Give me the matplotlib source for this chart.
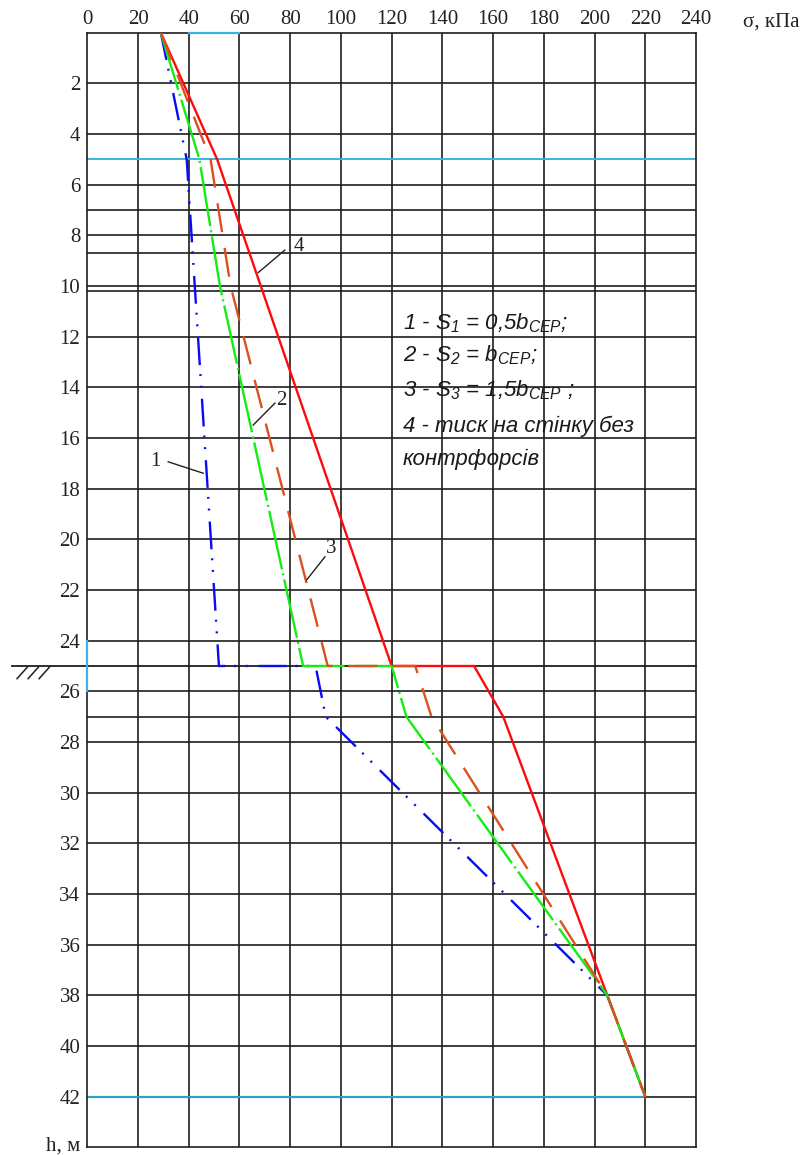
import matplotlib
matplotlib.use("Agg")
import matplotlib.pyplot as plt

plt.rcParams['lines.scale_dashes'] = False
plt.rcParams['mathtext.fontset'] = 'custom'
plt.rcParams['mathtext.rm'] = 'Liberation Sans:italic'
plt.rcParams['mathtext.it'] = 'Liberation Sans:italic'
plt.rcParams['mathtext.default'] = 'it'

# ---------------- data ----------------
sigma_ticks = list(range(0, 241, 20))
depth_ticks = list(range(2, 43, 2))
depth_axis_name = "h, м"
sigma_axis_name = "σ, кПа"

# curve 1: S1 = 0.5 b_cep
depth_1 = [0, 5, 25, 25, 27, 38, 42]
sigma_1 = [29, 39.2, 51.9, 90.0, 94.0, 205, 220]
# curve 2: S2 = b_cep
depth_2 = [0, 5, 10, 25, 25, 27, 38, 42]
sigma_2 = [29, 44.2, 52.3, 85.1, 120.0, 125.8, 205, 220]
# curve 3: S3 = 1.5 b_cep
depth_3 = [0, 5, 10, 25, 25, 27, 38, 42]
sigma_3 = [29, 48.6, 56.5, 94.8, 129.3, 135.7, 205, 220]
# curve 4: wall without buttresses
depth_4 = [0, 5, 25, 25, 27, 38, 42]
sigma_4 = [29, 51.2, 120.0, 152.5, 164.0, 205, 220]

extra_depth_lines = [7, 8.7, 10.2, 27]
blue_depth_lines = [5, 42]
ground_level = 25

legend_lines = ["1 - S$_1$ = 0,5b$_{СЕР}$;",
                "2 - S$_2$ = b$_{СЕР}$;",
                "3 - S$_3$ = 1,5b$_{СЕР}$ ;",
                "4 - тиск на стінку без",
                "контрфорсів"]

# ---------------- figure ----------------
W, H = 803, 1155
fig = plt.figure(figsize=(W / 100, H / 100), dpi=100)
x0, x1 = 87.3, 696.0
y0, y1 = 32.7, 1147.3
ax = fig.add_axes([x0 / W, 1 - y1 / H, (x1 - x0) / W, (y1 - y0) / H])
ax.set_xlim(0, 240)
ax.set_ylim(44, 0)

grid_c = '#1e1e1e'
grid_lw = 1.2
lightblue = '#3cb2e2'
tick_fs = 15

for s in ax.spines.values():
    s.set_color(grid_c)
    s.set_linewidth(grid_lw)

ax.xaxis.set_ticks_position('top')
ax.set_xticks(sigma_ticks)
ax.set_xticklabels([str(v) for v in sigma_ticks], fontfamily='Liberation Serif',
                   fontsize=tick_fs, color='#222222')
ax.set_yticks(depth_ticks)
ax.set_yticklabels([str(d) for d in depth_ticks], fontfamily='Liberation Serif',
                   fontsize=tick_fs, color='#222222')
ax.tick_params(axis='both', length=0)
ax.tick_params(axis='x', pad=3)
ax.tick_params(axis='y', pad=5)

# grid
for v in sigma_ticks[1:-1]:
    ax.axvline(v, color=grid_c, lw=grid_lw, zorder=1)
for d in depth_ticks:
    if d in blue_depth_lines:
        continue
    ax.axhline(d, color=grid_c, lw=grid_lw, zorder=1)
for d in extra_depth_lines:
    ax.axhline(d, color=grid_c, lw=grid_lw, zorder=1)
# light-blue lines
ax.axhline(5, color=lightblue, lw=1.4, zorder=1.5)
ax.plot([0, 220], [42, 42], color='#2f9fc8', lw=1.6, zorder=1.5)
ax.plot([220, 240], [42, 42], color=grid_c, lw=grid_lw, zorder=1.5)
ax.plot([40, 60], [0, 0], color=lightblue, lw=1.6, zorder=5, clip_on=False)
ax.plot([0, 0], [24, 26], color=lightblue, lw=1.6, zorder=5, clip_on=False)

# ground level line + hatch
ax.plot([-29.5, 240], [ground_level, ground_level], color=grid_c, lw=1.3,
        zorder=2, clip_on=False)
for i in range(3):
    xs = -27.7 + i * 4.35
    ax.plot([xs, xs + 4.2], [ground_level + 0.5, ground_level + 0.03],
            color=grid_c, lw=1.1, clip_on=False)

# curves
ax.plot(sigma_1, depth_1, color='#0a0af5', lw=1.7, zorder=4,
        linestyle=(0, (20, 6.5, 1.4, 7, 1.4, 8)))
ax.plot(sigma_2, depth_2, color='#14ec14', lw=1.7, zorder=4,
        linestyle=(0, (43, 3, 1.5, 3)))
ax.plot(sigma_3, depth_3, color='#dc5020', lw=1.7, zorder=4,
        linestyle=(0, (21, 11.5)))
ax.plot(sigma_4, depth_4, color='#ff0a0a', lw=1.7, zorder=3.5)

# curve labels with leaders
labels = [("1", (26.7, 16.94), (31.9, 16.94), (45.7, 17.39)),
          ("2", (76.5, 14.5), (74.0, 14.62), (65.4, 15.49)),
          ("3", (96.2, 20.35), (93.7, 20.69), (86.5, 21.6)),
          ("4", (83.6, 8.45), (77.9, 8.58), (67.4, 9.47))]
for txt, tp, a, b in labels:
    ax.text(tp[0], tp[1], txt, fontfamily='Liberation Serif', fontsize=tick_fs,
            ha='center', va='center', color='#222222', zorder=6)
    ax.plot([a[0], b[0]], [a[1], b[1]], color='#222222', lw=1.0, zorder=6)

# legend text
baselines = [11.71, 12.99, 14.37, 15.75, 17.07]
for line, yb in zip(legend_lines, baselines):
    ax.text(124.4, yb, line, fontfamily='Liberation Sans', style='italic',
            fontsize=16, ha='left', va='baseline', color='#1a1a1a', zorder=6)

# axis names
fig.text(771 / W, 1 - 22 / H, sigma_axis_name, fontfamily='Liberation Serif',
         fontsize=tick_fs, ha='center', va='center', color='#222222')
fig.text(80.5 / W, 1 - 1151 / H, depth_axis_name, fontfamily='Liberation Serif',
         fontsize=tick_fs, ha='right', va='baseline', color='#222222')

fig.savefig("out.png", dpi=100)
